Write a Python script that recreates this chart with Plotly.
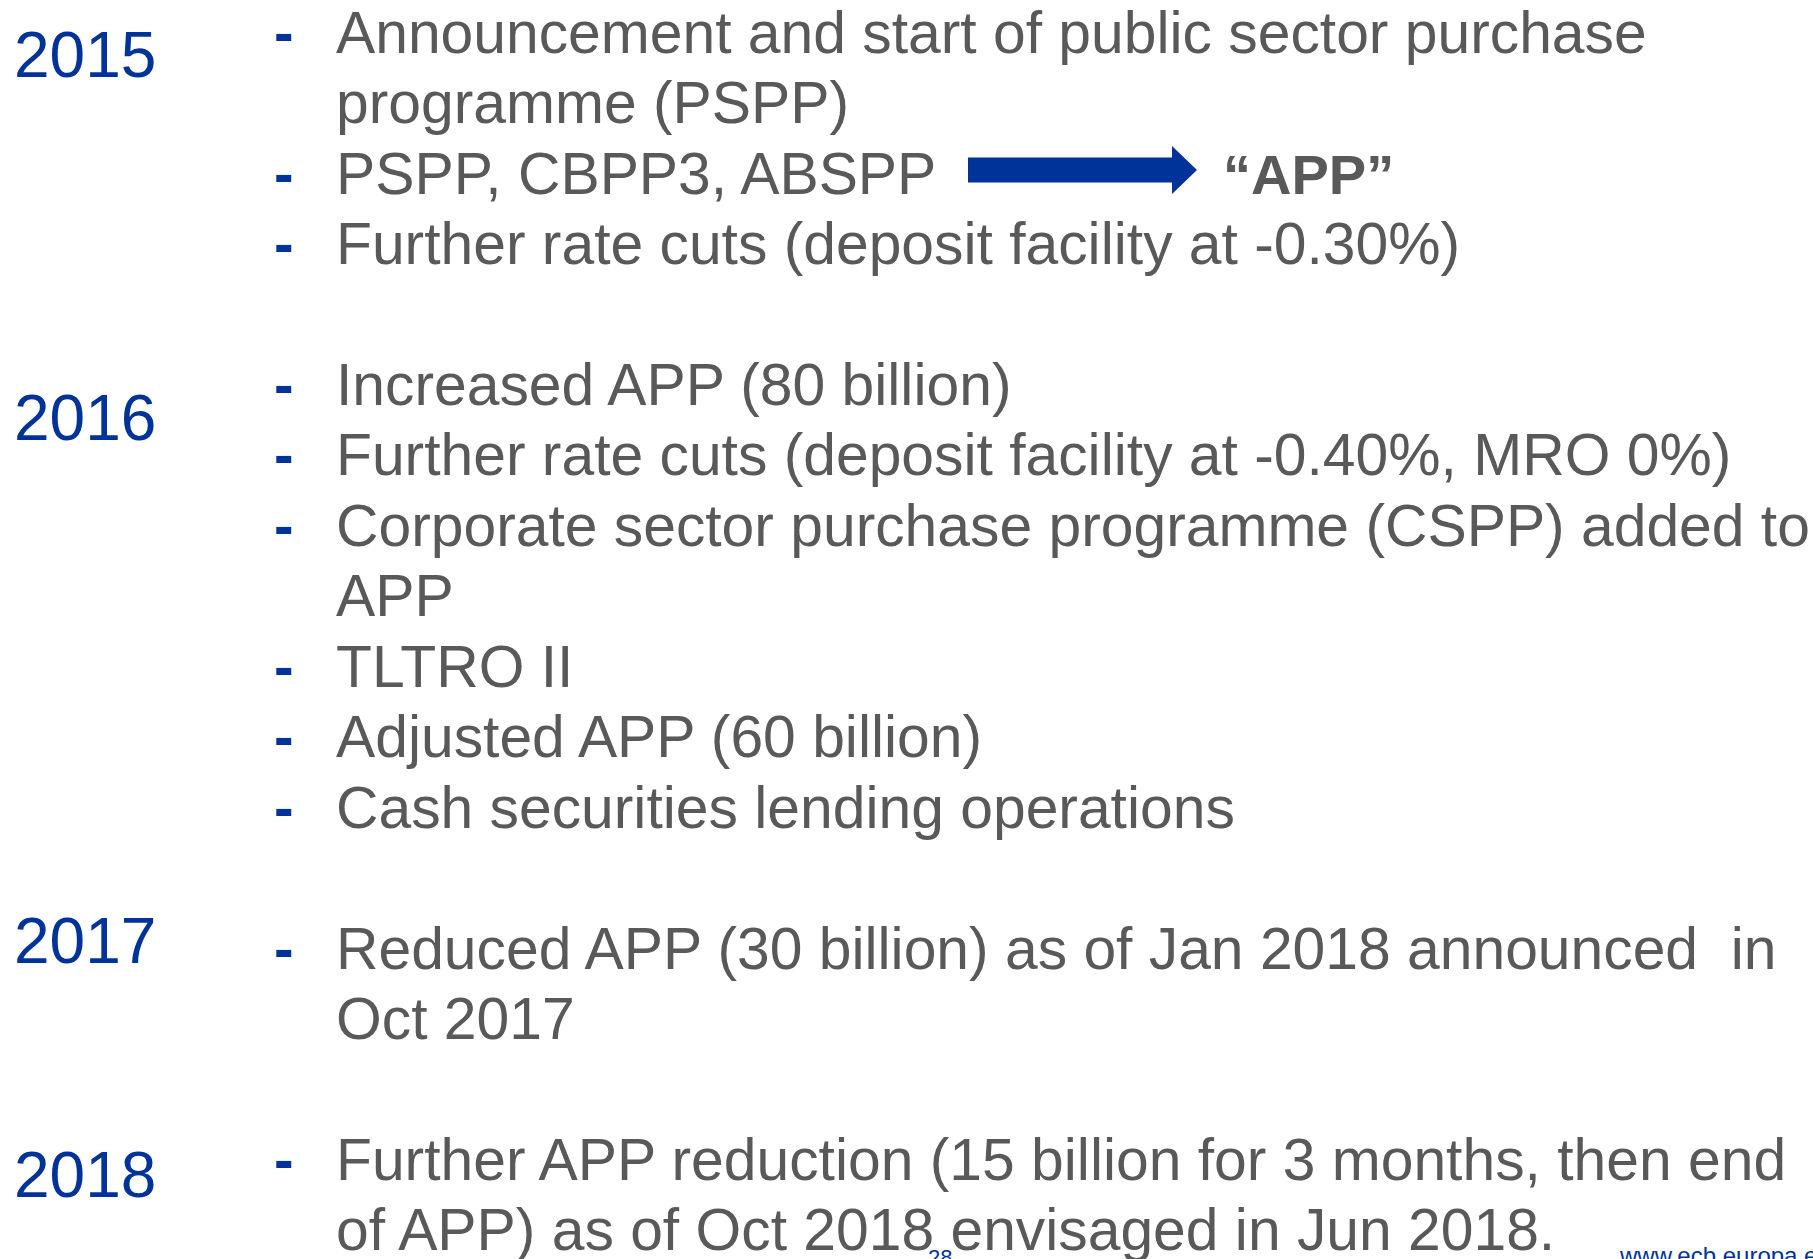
import plotly.graph_objects as go

# ---------------- content ----------------
years = ["2015", "2016", "2017", "2018"]

items_2015 = [
    ["Announcement and start of public sector purchase", "programme (PSPP)"],
    ["PSPP, CBPP3, ABSPP"],
    ["Further rate cuts (deposit facility at -0.30%)"],
]
items_2016 = [
    ["Increased APP (80 billion)"],
    ["Further rate cuts (deposit facility at -0.40%, MRO 0%)"],
    ["Corporate sector purchase programme (CSPP) added to", "APP"],
    ["TLTRO II"],
    ["Adjusted APP (60 billion)"],
    ["Cash securities lending operations"],
]
items_2017 = [
    ["Reduced APP (30 billion) as of Jan 2018 announced  in", "Oct 2017"],
]
items_2018 = [
    ["Further APP reduction (15 billion for 3 months, then end",
     "of APP) as of Oct 2018 envisaged in Jun 2018."],
]
blocks = [items_2015, items_2016, items_2017, items_2018]
arrow_label = "“APP”"
bullet = "-"
page_number = "28"
footer_url = "www.ecb.europa.eu"

# ---------------- layout constants ----------------
W, H = 1813, 1259
FONT = "Liberation Sans, Arial, Helvetica, sans-serif"
GREY = "#595959"
BLUE = "#003399"
ASC = 0.905          # font ascent (em)
BODY_SIZE = 58.8
LABEL_SIZE = 56
YEAR_SIZE = 64
LINE_GAP = 70.5
YEAR_X = 14
DASH_X = 274
TEXT_X = 336
block_first_baseline = [53, 405, 969, 1180]
year_baseline = [77, 440, 963, 1197]
# arrow geometry (pixels)
ARR_X0, ARR_X1, ARR_X2 = 968, 1172, 1197
ARR_YC, ARR_SHAFT, ARR_HEAD = 170, 25, 48
APP_X = 1223

fig = go.Figure()


def add_text(x, baseline, text, size, color):
    top_px = baseline - ASC * size
    fig.add_annotation(
        x=x / W, y=1 - top_px / H, xref="paper", yref="paper",
        xanchor="left", yanchor="top", text=text, showarrow=False,
        font=dict(family=FONT, size=size, color=color),
        borderpad=0, borderwidth=0, align="left",
    )


for yi, (yr, items) in enumerate(zip(years, blocks)):
    add_text(YEAR_X, year_baseline[yi], yr, YEAR_SIZE, BLUE)
    line = 0
    for item in items:
        b0 = block_first_baseline[yi] + line * LINE_GAP
        add_text(DASH_X, b0, "<b>" + bullet + "</b>", BODY_SIZE, BLUE)
        for k, txt in enumerate(item):
            add_text(TEXT_X, b0 + k * LINE_GAP, txt, BODY_SIZE, GREY)
        line += len(item)

# arrow and "APP" label on the PSPP line
pspp_baseline = block_first_baseline[0] + 2 * LINE_GAP
path = (f"M {ARR_X0},{ARR_YC - ARR_SHAFT / 2} L {ARR_X1},{ARR_YC - ARR_SHAFT / 2} "
        f"L {ARR_X1},{ARR_YC - ARR_HEAD / 2} L {ARR_X2},{ARR_YC} "
        f"L {ARR_X1},{ARR_YC + ARR_HEAD / 2} L {ARR_X1},{ARR_YC + ARR_SHAFT / 2} "
        f"L {ARR_X0},{ARR_YC + ARR_SHAFT / 2} Z")
fig.add_shape(type="path", path=path, xref="x", yref="y",
              fillcolor=BLUE, line=dict(width=0))
add_text(APP_X, pspp_baseline, "<b>" + arrow_label + "</b>", LABEL_SIZE, GREY)

# footer
add_text(928, 1265, page_number, 22, BLUE)
add_text(1619, 1264, footer_url, 24, BLUE)

fig.update_layout(
    width=W, height=H, margin=dict(l=0, r=0, t=0, b=0),
    paper_bgcolor="white", plot_bgcolor="white", showlegend=False,
    xaxis=dict(range=[0, W], visible=False, fixedrange=True),
    yaxis=dict(range=[H, 0], visible=False, fixedrange=True),
)

fig.write_html(
    "out.html",
    config={"displayModeBar": False, "staticPlot": True},
    post_script="document.body.style.margin='0';document.body.style.overflow='hidden';",
)
